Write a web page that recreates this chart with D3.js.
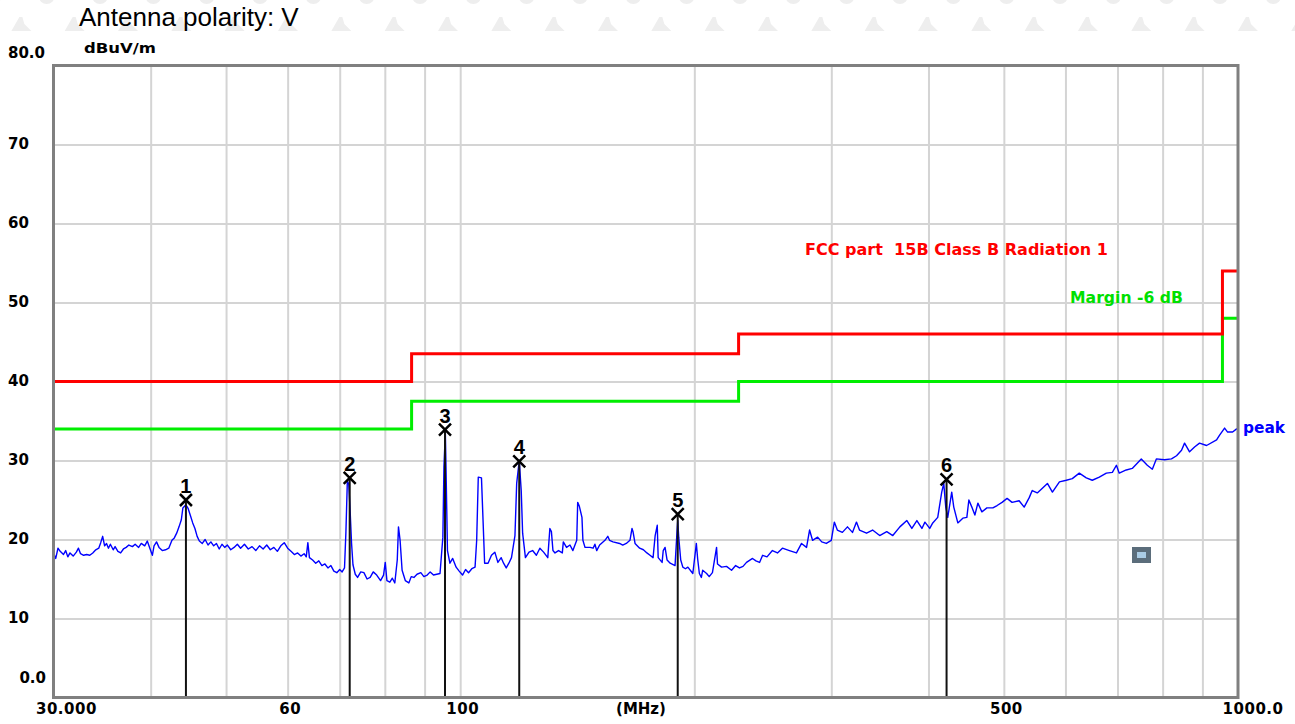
<!DOCTYPE html>
<html>
<head>
<meta charset="utf-8">
<script src="https://cdn.jsdelivr.net/npm/d3@7"></script>
<style>
  html, body { margin: 0; padding: 0; background: #fff; }
  svg { display: block; }
  .lbl { font-family: "DejaVu Sans", sans-serif; font-weight: bold; font-size: 15px; fill: #000; }
</style>
</head>
<body>
<svg id="chart" width="1295" height="724"></svg>
<script>
// ---- data ----
const traceFreq = [
  30.0, 30.2, 30.4, 30.6, 30.9, 31.1, 31.3, 31.5, 31.8, 32.1, 32.3, 32.5, 32.8, 33.1, 33.4, 33.7, 34.0, 34.3, 34.5, 34.7,
  34.9, 35.1, 35.3, 35.5, 35.8, 36.0, 36.3, 36.6, 36.9, 37.2, 37.5, 37.9, 38.2, 38.6, 38.9, 39.3, 39.6, 39.9, 40.2, 40.4,
  40.7, 41.0, 41.4, 41.8, 42.2, 42.6, 42.9, 43.2, 43.5, 43.8, 44.0, 44.4, 44.7, 45.0, 45.3, 45.6, 45.9, 46.2, 46.6, 47.0,
  47.4, 47.8, 48.2, 48.6, 49.0, 49.4, 49.8, 50.2, 50.7, 51.2, 51.7, 52.2, 52.8, 53.4, 54.0, 54.6, 55.2, 55.8, 56.4, 57.0,
  57.6, 58.2, 58.8, 59.4, 60.0, 60.6, 61.2, 61.8, 62.4, 63.0, 63.4, 63.7, 64.0, 64.6, 65.2, 65.8, 66.4, 67.0, 67.6, 68.2,
  68.8, 69.4, 70.0, 70.5, 71.0, 71.3, 71.6, 71.9, 72.2, 72.5, 72.8, 73.3, 73.8, 74.5, 75.2, 75.9, 76.6, 77.3, 78.1, 79.0,
  79.7, 80.1, 80.5, 81.2, 81.8, 82.4, 83.0, 83.3, 83.7, 84.2, 85.0, 85.9, 86.5, 87.2, 88.0, 89.0, 89.8, 90.7, 91.5, 92.4,
  93.3, 94.2, 95.0, 95.3, 95.7, 95.9, 96.3, 97.0, 97.8, 98.8, 99.7, 100.7, 101.6, 102.5, 103.5, 104.5, 105.0, 105.5, 106.5, 107.0,
  107.5, 108.6, 109.7, 110.8, 111.8, 112.9, 113.7, 114.6, 115.5, 116.4, 117.6, 118.2, 119.1, 119.8, 120.3, 121.3, 122.6, 123.9, 125.3, 126.6,
  128.0, 129.6, 130.4, 131.0, 131.6, 132.4, 133.8, 135.3, 135.7, 137.0, 138.4, 139.6, 141.2, 141.6, 142.3, 143.4, 143.8, 144.7, 146.9, 148.2,
  149.0, 149.8, 151.1, 153.5, 154.8, 155.6, 157.2, 160.3, 161.8, 163.5, 165.3, 166.3, 166.8, 167.8, 170.1, 172.0, 173.8, 175.4, 177.0, 178.1,
  179.2, 179.7, 181.8, 182.4, 183.4, 184.5, 186.2, 188.9, 190.0, 190.4, 191.0, 192.1, 193.3, 194.8, 196.2, 199.1, 200.7, 201.2, 202.0, 203.0,
  204.2, 205.0, 207.4, 209.0, 211.0, 213.6, 214.2, 216.8, 220.0, 223.3, 226.0, 228.6, 231.0, 233.4, 237.6, 240.0, 242.6, 244.8, 248.0, 252.0,
  255.8, 259.6, 265.0, 270.6, 274.7, 278.8, 281.3, 283.8, 288.1, 291.6, 295.6, 300.0, 302.7, 305.4, 310.0, 314.7, 319.4, 323.2, 326.1, 333.0,
  339.0, 346.2, 353.5, 359.9, 367.5, 375.2, 380.8, 386.5, 392.3, 395.8, 401.5, 405.1, 411.1, 416.0, 418.5, 421.0, 423.5, 428.5, 431.1, 436.3,
  442.8, 448.1, 450.8, 454.8, 458.9, 463.0, 468.5, 475.5, 484.0, 490.1, 497.3, 504.8, 512.3, 523.1, 531.0, 539.0, 543.8, 552.0, 560.4, 568.8,
  577.3, 589.4, 601.5, 612.3, 625.1, 638.2, 649.6, 663.3, 677.2, 689.4, 697.7, 703.6, 718.3, 731.2, 751.0, 764.5, 776.0, 785.3, 804.3, 821.3,
  833.6, 846.1, 853.7, 866.4, 879.3, 892.4, 911.2, 938.6, 947.0, 961.1, 969.7, 984.1, 995.9, 1000.0
];
const traceLevel = [
  18.3, 17.6, 18.9, 18.5, 18.1, 18.6, 17.8, 18.3, 17.9, 18.4, 18.9, 18.2, 18.0, 18.1, 18.0, 18.3, 18.7, 18.9, 19.6, 20.4,
  19.2, 19.5, 18.9, 19.4, 18.7, 19.1, 18.5, 18.3, 18.8, 19.0, 19.3, 19.1, 19.4, 19.0, 19.5, 19.2, 19.8, 18.9, 18.0, 19.2,
  19.7, 19.0, 18.6, 18.7, 18.9, 19.9, 20.2, 20.8, 21.6, 22.5, 24.0, 24.4, 23.9, 23.0, 22.1, 21.4, 20.4, 19.8, 19.5, 20.0,
  19.3, 19.7, 19.2, 19.5, 18.8, 19.4, 19.0, 19.3, 18.7, 19.0, 19.4, 18.9, 19.4, 18.8, 19.1, 18.6, 19.2, 18.8, 19.3, 18.7,
  19.0, 18.5, 19.2, 19.6, 18.9, 18.5, 18.1, 18.3, 17.9, 18.2, 17.8, 19.6, 17.7, 17.4, 17.0, 17.3, 16.7, 16.9, 16.4, 16.7,
  16.0, 15.8, 16.2, 15.9, 16.4, 21.0, 27.4, 27.0, 23.5, 19.5, 16.8, 15.6, 15.2, 15.9, 15.8, 15.0, 15.2, 15.9, 15.5, 14.8,
  15.5, 17.1, 14.8, 14.6, 15.1, 14.5, 17.4, 21.6, 19.9, 16.1, 14.8, 14.5, 15.3, 15.2, 15.6, 15.8, 15.3, 15.5, 15.9, 15.5,
  15.6, 15.7, 20.3, 29.2, 33.5, 28.8, 18.6, 17.0, 17.6, 16.5, 16.0, 15.5, 16.2, 15.8, 16.3, 16.5, 19.9, 27.9, 27.8, 22.4,
  17.0, 17.0, 18.0, 18.4, 17.1, 17.7, 17.0, 16.4, 17.0, 17.7, 20.5, 27.1, 30.0, 26.2, 20.8, 17.7, 18.4, 18.6, 18.0, 18.9,
  18.4, 17.7, 21.4, 21.0, 18.6, 18.3, 18.6, 18.3, 19.7, 19.0, 19.3, 18.6, 19.9, 24.7, 24.2, 22.8, 19.9, 19.0, 19.0, 18.9,
  19.4, 18.6, 19.3, 19.9, 20.4, 19.9, 19.7, 19.5, 19.3, 19.5, 19.9, 21.4, 21.0, 19.5, 18.9, 18.7, 18.3, 18.0, 17.7, 20.5,
  21.8, 17.7, 17.1, 18.6, 19.0, 17.4, 17.0, 16.7, 21.0, 22.4, 20.2, 17.4, 16.5, 16.3, 16.5, 15.7, 18.6, 19.5, 17.5, 15.7,
  15.2, 16.1, 15.7, 15.3, 15.8, 19.0, 16.9, 16.5, 16.6, 16.1, 16.7, 16.4, 16.6, 17.1, 17.6, 17.3, 17.1, 18.0, 17.8, 18.6,
  18.3, 18.9, 18.6, 18.3, 19.5, 19.0, 21.2, 19.9, 20.3, 19.7, 19.5, 19.9, 22.2, 21.2, 20.9, 21.6, 20.9, 22.2, 21.2, 20.8,
  21.2, 20.5, 21.0, 20.5, 21.6, 22.4, 21.4, 22.4, 21.4, 22.2, 21.4, 22.1, 22.8, 26.0, 27.1, 24.1, 22.8, 26.0, 24.1, 22.1,
  22.7, 22.8, 25.0, 24.1, 23.1, 24.6, 23.5, 24.0, 24.0, 24.3, 24.7, 25.2, 24.7, 24.9, 24.1, 25.3, 26.2, 25.9, 26.5, 27.1,
  26.0, 27.3, 27.5, 27.7, 28.4, 27.8, 27.5, 27.9, 28.4, 28.5, 29.4, 28.4, 28.8, 29.0, 30.2, 29.4, 28.9, 30.2, 30.1, 30.2,
  30.6, 31.3, 32.2, 31.1, 31.7, 32.2, 31.9, 32.6, 33.2, 34.1, 33.6, 33.6, 34.0, 33.9
];

// limit line (FCC part 15B class B) and the -6 dB margin, as steps
const limitEdges = [30, 86.6, 228, 955, 1000];
const limitLevels = [40.0, 43.5, 46.0, 54.0];
const marginLevels = [34.0, 37.5, 40.0, 48.0];

// peak markers
const markerFreq = [44.4, 72.1, 95.6, 119.1, 190.4, 422];
const markerLevel = [25.0, 27.8, 33.9, 29.9, 23.2, 27.6];

// axes
const yTicks = [0, 10, 20, 30, 40, 50, 60, 70, 80];
const yTickLabels = ["0.0", "10", "20", "30", "40", "50", "60", "70", "80.0"];
const xTicks = [30, 60, 100, 500, 1000];
const xTickLabels = ["30.000", "60", "100", "500", "1000.0"];
const xGrid = [40, 50, 60, 70, 80, 90, 100, 200, 300, 400, 500, 600, 700, 800, 900];
const yGrid = [10, 20, 30, 40, 50, 60, 70];

const svg = d3.select("#chart");
const plotL = 53.5, plotR = 1238, plotT = 65.5, plotB = 697.5;

const x = d3.scaleLog().domain([30, 1000]).range([plotL, plotR]);
const y = d3.scaleLinear().domain([0, 80]).range([plotB, plotT]);

// faint watermark at the top
const wm = svg.append("g").attr("fill", "#eeeeee");
d3.range(-8, 17).forEach(i => {
  const cx = 420 + i * 53.33;
  wm.append("circle").attr("cx", cx).attr("cy", -4).attr("r", 8);
  const sx = cx + 18;
  wm.append("path")
    .attr("d", `M${sx},31 L${sx + 8},17 L${sx + 11},17 L${sx + 13},24 L${sx + 20},31 Z`);
});

// title
svg.append("text")
  .attr("x", 79).attr("y", 26)
  .style("font-family", "'Liberation Sans', Arial, sans-serif")
  .style("font-size", "26px")
  .text("Antenna polarity: V");

// plot background
svg.append("rect")
  .attr("x", plotL).attr("y", plotT)
  .attr("width", plotR - plotL).attr("height", plotB - plotT)
  .attr("fill", "#fff");

// grid
svg.append("g")
  .attr("transform", `translate(0,${plotB})`)
  .call(d3.axisBottom(x).tickValues(xGrid).tickSize(-(plotB - plotT)).tickFormat(""))
  .call(g => g.select(".domain").remove())
  .call(g => g.selectAll("line").attr("stroke", "#d4d4d4").attr("stroke-width", 2));

svg.append("g")
  .attr("transform", `translate(${plotL},0)`)
  .call(d3.axisLeft(y).tickValues(yGrid).tickSize(-(plotR - plotL)).tickFormat(""))
  .call(g => g.select(".domain").remove())
  .call(g => g.selectAll("line").attr("stroke", "#d4d4d4").attr("stroke-width", 2));

// limit + margin
function stepPoints(levels) {
  const pts = levels.map((v, i) => [limitEdges[i], v]);
  pts.push([limitEdges[limitEdges.length - 1], levels[levels.length - 1]]);
  return pts;
}
const stepLine = d3.line()
  .x(d => x(d[0]))
  .y(d => y(d[1]))
  .curve(d3.curveStepAfter);

svg.append("path")
  .datum(stepPoints(marginLevels))
  .attr("fill", "none")
  .attr("stroke", "#00ee00")
  .attr("stroke-width", 3)
  .attr("d", stepLine);

svg.append("path")
  .datum(stepPoints(limitLevels))
  .attr("fill", "none")
  .attr("stroke", "#ff0000")
  .attr("stroke-width", 3)
  .attr("d", stepLine);

// trace
const trace = traceFreq.map((f, i) => [f, traceLevel[i]]);
svg.append("path")
  .datum(trace)
  .attr("fill", "none")
  .attr("stroke", "#0000ff")
  .attr("stroke-width", 1.4)
  .attr("stroke-linejoin", "round")
  .attr("d", d3.line().x(d => x(d[0])).y(d => y(d[1])));

// markers
const mk = svg.append("g").selectAll("g")
  .data(markerFreq.map((f, i) => ({ f: f, v: markerLevel[i], n: i + 1 })))
  .enter().append("g")
  .attr("transform", d => `translate(${x(d.f)},${y(d.v)})`);

mk.append("line")
  .attr("x1", 0).attr("x2", 0)
  .attr("y1", 0).attr("y2", d => plotB - y(d.v))
  .attr("stroke", "#111")
  .attr("stroke-width", 2);

mk.append("path")
  .attr("d", "M-6,-6 L6,6 M-6,6 L6,-6")
  .attr("stroke", "#000")
  .attr("stroke-width", 2.5);

mk.append("text")
  .attr("y", -7)
  .attr("text-anchor", "middle")
  .style("font-family", "'Liberation Sans', Arial, sans-serif")
  .style("font-weight", "bold")
  .style("font-size", "20px")
  .text(d => d.n);

// frame
svg.append("rect")
  .attr("x", plotL).attr("y", plotT)
  .attr("width", plotR - plotL).attr("height", plotB - plotT)
  .attr("fill", "none")
  .attr("stroke", "#808080")
  .attr("stroke-width", 3);

// y axis labels
svg.append("g")
  .attr("transform", `translate(${plotL},0)`)
  .call(d3.axisLeft(y).tickValues(yTicks).tickSize(0).tickFormat((d, i) => yTickLabels[i]))
  .call(g => g.select(".domain").remove())
  .call(g => g.selectAll("text")
    .attr("class", "lbl")
    .attr("dy", "0.35em")
    .attr("text-anchor", d => d === 0 ? "end" : "start")
    .attr("x", d => d === 0 ? 46 - plotL : 8 - plotL)
    .attr("y", d => d === 80 ? -13.5 : d === 0 ? -20.5 : -1))
  .attr("font-family", null).attr("font-size", null);

svg.append("text")
  .attr("class", "lbl")
  .attr("x", 84).attr("y", 53)
  .style("font-size", "14px")
  .attr("textLength", 72).attr("lengthAdjust", "spacingAndGlyphs")
  .text("dBuV/m");

// x axis labels
svg.append("g")
  .attr("transform", `translate(0,${plotB})`)
  .call(d3.axisBottom(x).tickValues(xTicks).tickSize(0).tickFormat((d, i) => xTickLabels[i]))
  .call(g => g.select(".domain").remove())
  .call(g => g.selectAll("text")
    .attr("class", "lbl")
    .attr("y", 11).attr("dy", "0.35em")
    .attr("text-anchor", d => d === 30 ? "start" : d === 1000 ? "end" : "middle")
    .attr("dx", d => d === 30 ? -18 : d === 1000 ? 45 : 2)
    .style("letter-spacing", "0.5px"))
  .attr("font-family", null).attr("font-size", null);

svg.append("text")
  .attr("class", "lbl")
  .attr("x", 641).attr("y", plotB + 11).attr("dy", "0.35em")
  .attr("text-anchor", "middle")
  .text("(MHz)");

// legends
svg.append("text")
  .attr("class", "lbl")
  .attr("x", 805).attr("y", 255)
  .style("font-size", "15px").style("fill", "#ff0000").style("white-space", "pre")
  .attr("textLength", 303).attr("lengthAdjust", "spacingAndGlyphs")
  .text("FCC part  15B Class B Radiation 1");

svg.append("text")
  .attr("class", "lbl")
  .attr("x", 1070).attr("y", 303)
  .style("font-size", "15px").style("fill", "#00e000")
  .attr("textLength", 113).attr("lengthAdjust", "spacingAndGlyphs")
  .text("Margin -6 dB");

svg.append("text")
  .attr("class", "lbl")
  .attr("x", 1243).attr("y", 433)
  .style("font-size", "16px").style("fill", "#0000ff")
  .attr("textLength", 42).attr("lengthAdjust", "spacingAndGlyphs")
  .text("peak");

// small legend toggle box inside the plot
svg.append("rect")
  .attr("x", 1132).attr("y", 547).attr("width", 19).attr("height", 16)
  .attr("fill", "#5b6d7b");
svg.append("rect")
  .attr("x", 1137).attr("y", 552).attr("width", 9).attr("height", 6)
  .attr("fill", "#a9cbe4");
</script>
</body>
</html>
